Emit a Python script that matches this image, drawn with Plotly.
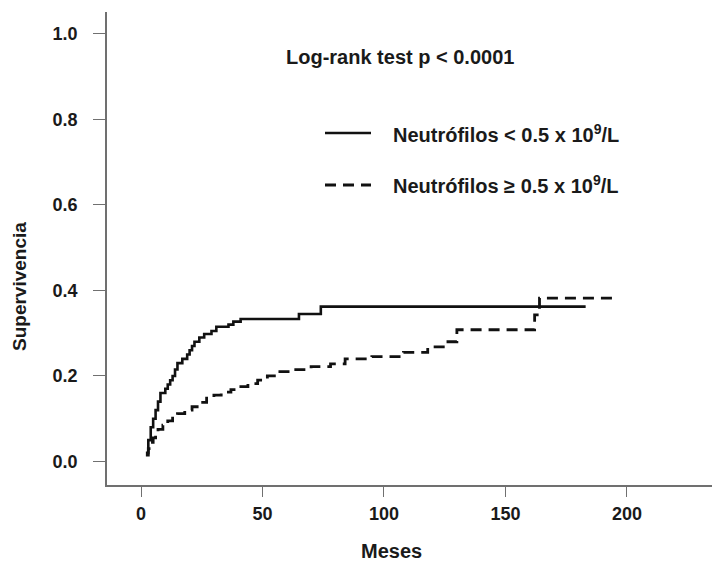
import plotly.graph_objects as go

# Solid group: Neutrófilos < 0.5 x 10^9/L
t_low = [2, 3, 4, 5, 6, 7, 8, 10, 11, 12, 13, 14, 15, 17, 19, 20, 21, 22, 24, 26, 29, 31, 36, 38, 41, 65, 74, 183]
s_low = [0.02, 0.05, 0.08, 0.10, 0.12, 0.14, 0.16, 0.17, 0.18, 0.19, 0.20, 0.215, 0.23, 0.24, 0.25, 0.26, 0.27,
         0.28, 0.29, 0.298, 0.305, 0.315, 0.32, 0.327, 0.333, 0.345, 0.362, 0.362]

# Dashed group: Neutrófilos >= 0.5 x 10^9/L
t_high = [2, 3, 4, 5, 6, 7, 9, 11, 13, 15, 18, 21, 24, 27, 30, 33, 37, 40, 44, 48, 52, 56, 62, 70, 78, 84, 95,
          108, 118, 125, 130, 162, 164, 196]
s_high = [0.015, 0.03, 0.045, 0.055, 0.065, 0.075, 0.085, 0.095, 0.105, 0.112, 0.12, 0.128, 0.138, 0.148, 0.155,
          0.162, 0.168, 0.175, 0.182, 0.19, 0.20, 0.21, 0.215, 0.222, 0.228, 0.24, 0.245, 0.255, 0.268, 0.28,
          0.308, 0.343, 0.382, 0.382]

x_ticks = [0, 50, 100, 150, 200]
y_ticks = [0.0, 0.2, 0.4, 0.6, 0.8, 1.0]

FONT = "Liberation Sans, Arial, sans-serif"
TXT = "#1a1a1a"
AX = "#707070"

fig = go.Figure()
fig.add_trace(go.Scatter(x=t_low, y=s_low, mode="lines", line=dict(color="#111111", width=2.6, shape="hv"),
                         name="low", showlegend=False))
fig.add_trace(go.Scatter(x=t_high, y=s_high, mode="lines",
                         line=dict(color="#111111", width=2.8, shape="hv", dash="11px,7px"),
                         name="high", showlegend=False))

W, H = 715, 565
L, R, T, B = 107, 3, 12, 80
pw, ph = W - L - R, H - T - B

def px_x(p):
    return (p - L) / pw

def px_y(p):
    return 1 - (p - T) / ph

fig.update_layout(
    width=W, height=H,
    margin=dict(l=L, r=R, t=T, b=B),
    paper_bgcolor="white", plot_bgcolor="white",
    font=dict(family=FONT, color=TXT, size=18),
    xaxis=dict(range=[-14, 235], tickvals=x_ticks, ticks="outside", ticklen=10, tickwidth=1.2, tickcolor=AX,
               showline=True, linecolor=AX, linewidth=1.5, showgrid=False, zeroline=False,
               ticklabelstandoff=2,
               tickfont=dict(family=FONT, size=18, color=TXT, weight="bold")),
    yaxis=dict(range=[-0.055, 1.051], tickvals=y_ticks, tickformat=".1f", ticks="outside", ticklen=12,
               tickwidth=1.2, tickcolor=AX, showline=True, linecolor=AX, linewidth=1.5, showgrid=False,
               zeroline=False, ticklabelstandoff=12,
               tickfont=dict(family=FONT, size=18, color=TXT, weight="bold")),
    showlegend=False,
)

ann = []
ann.append(dict(text="Meses", x=px_x(391), y=px_y(551), xref="paper", yref="paper", showarrow=False,
                font=dict(size=20, weight="bold", family=FONT, color=TXT), xanchor="center", yanchor="middle"))
ann.append(dict(text="Supervivencia", x=px_x(19), y=px_y(287), xref="paper", yref="paper", showarrow=False,
                textangle=-90, font=dict(size=19, weight="bold", family=FONT, color=TXT),
                xanchor="center", yanchor="middle"))
ann.append(dict(text="Log-rank test p < 0.0001", x=px_x(400), y=px_y(57), xref="paper", yref="paper",
                showarrow=False, font=dict(size=20, weight="bold", family=FONT, color=TXT),
                xanchor="center", yanchor="middle"))
ann.append(dict(text="Neutrófilos < 0.5 x 10<sup>9</sup>/L", x=px_x(391), y=px_y(133), xref="paper",
                yref="paper", showarrow=False, font=dict(size=20, weight="bold", family=FONT, color=TXT),
                xanchor="left", yanchor="middle"))
ann.append(dict(text="Neutrófilos ≥ 0.5 x 10<sup>9</sup>/L", x=px_x(391), y=px_y(185), xref="paper",
                yref="paper", showarrow=False, font=dict(size=20, weight="bold", family=FONT, color=TXT),
                xanchor="left", yanchor="middle"))
fig.update_layout(annotations=ann)

fig.add_shape(type="line", xref="paper", yref="paper", x0=px_x(325), x1=px_x(371), y0=px_y(133), y1=px_y(133),
              line=dict(color="#111111", width=2.6))
fig.add_shape(type="line", xref="paper", yref="paper", x0=px_x(325), x1=px_x(371), y0=px_y(185), y1=px_y(185),
              line=dict(color="#111111", width=2.8, dash="11px,7px"))

fig.write_html("out.html")
